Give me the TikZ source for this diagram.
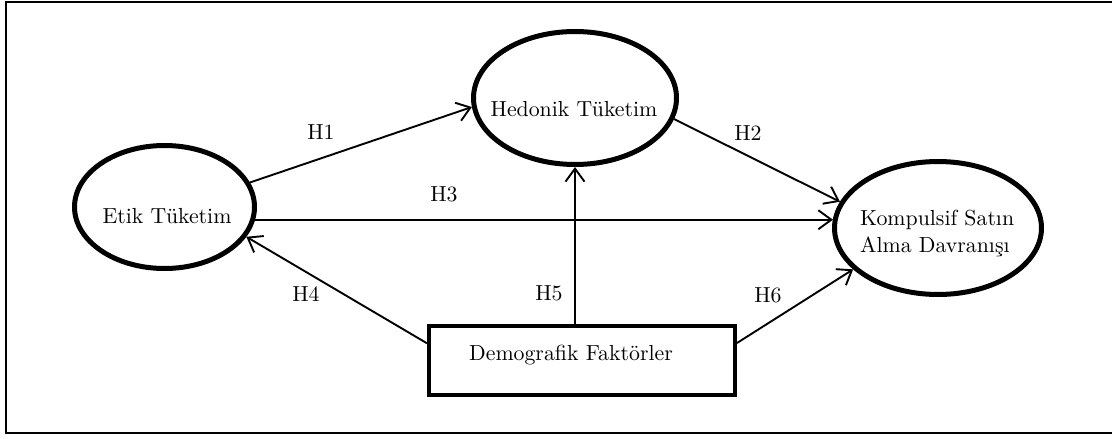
\documentclass[tikz,border=0pt]{standalone}
\usepackage{fontspec}
\setmainfont{lmroman10-regular}[Extension=.otf]
\usetikzlibrary{shapes.geometric,arrows.meta}
\begin{document}
\begin{tikzpicture}[x=1pt,y=-1pt,
  latent/.style={ellipse,draw,line width=5pt,inner sep=0pt},
  boxnode/.style={rectangle,draw,line width=4pt,inner sep=0pt},
  txt/.style={font=\fontsize{21.8}{27.7}\selectfont,align=left,inner sep=0pt,anchor=base},
  hyp/.style={font=\fontsize{21.8}{26}\selectfont,inner sep=0pt},
  conn/.style={line width=1.9pt,-{Straight Barb[length=13pt,width=19pt,line width=1.9pt]}}]
\useasboundingbox (0,0) rectangle (1112,439);
% frame
\draw[line width=2pt] (1120,1.5) -- (6,1.5) -- (6,432.5) -- (1120,432.5);
% nodes
\node[latent,minimum width=180pt,minimum height=123pt] (etik) at (164.5,207) {};
\node[latent,minimum width=203pt,minimum height=133pt] (hed) at (575,98) {};
\node[latent,minimum width=207pt,minimum height=133pt] (komp) at (938,228) {};
\node[boxnode,minimum width=306pt,minimum height=69pt] (dem) at (582,360.5) {};
% texts
\node[txt] (etikT) at (167,223.3) {Etik Tüketim};
\node[txt] (hedT) at (574,116.7) {Hedonik Tüketim};
\node[txt,anchor=base west] (kompT) at (860,252.7) {Kompulsif Satın\\Alma Davranışı};
\node[txt] (demT) at (571,360.7) {Demografik Faktörler};
% connectors
\draw[conn] (etik.16) -- (hed.185);
\draw[conn] (hed.-12) -- (komp.165);
\draw[conn] (etik.-8) -- (etik.-8 -| komp.175);
\draw[conn] ([yshift=17.2pt]dem.west) -- (etik.-20);
\draw[conn] (dem.north -| hed.south) -- (hed.south);
\draw[conn] ([yshift=17.5pt]dem.east) -- (komp.206);
% hypothesis labels
\node[hyp] (h1) at (321,132) {H1};
\node[hyp] (h2) at (748,133) {H2};
\node[hyp] (h3) at (444,194) {H3};
\node[hyp] (h4) at (306,294) {H4};
\node[hyp] (h5) at (549,293) {H5};
\node[hyp] (h6) at (768,295) {H6};
\end{tikzpicture}
\end{document}
